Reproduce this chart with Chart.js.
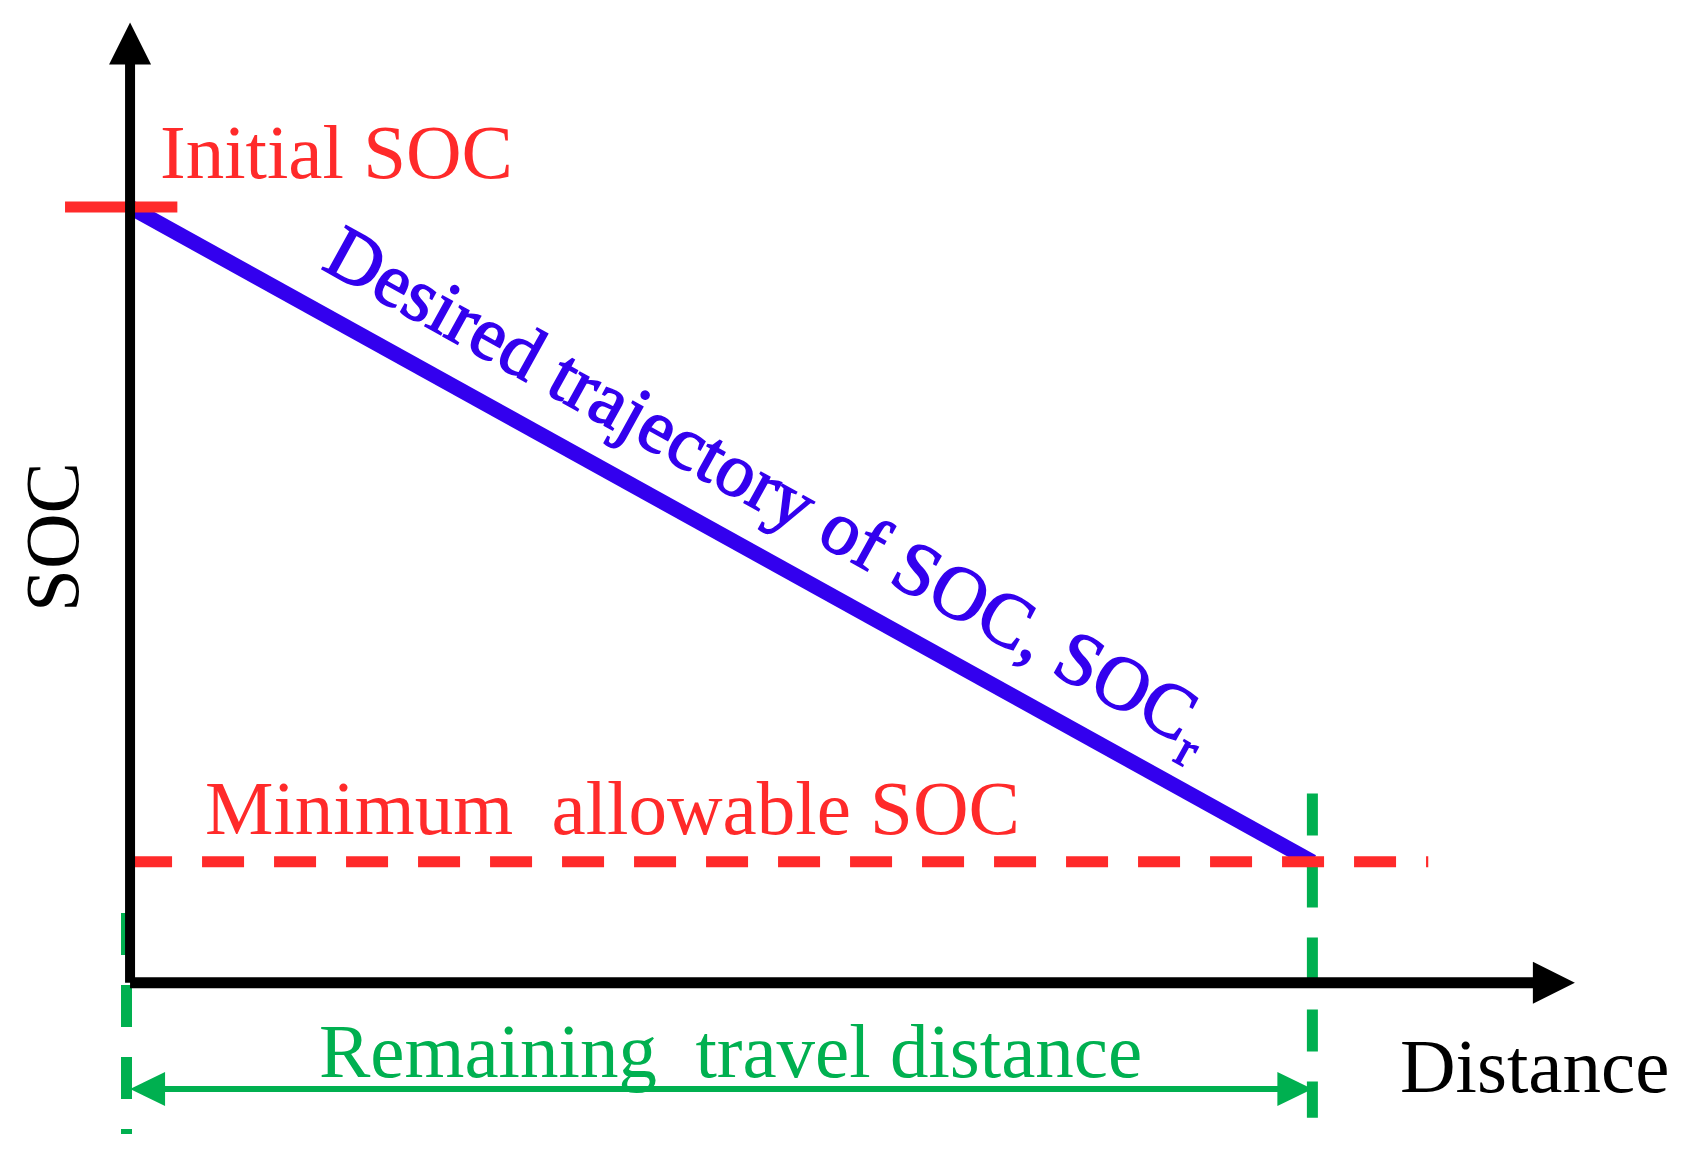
<!DOCTYPE html>
<html>
<head>
<meta charset="utf-8">
<script src="https://cdn.jsdelivr.net/npm/chart.js@4"></script>
<style>
 html, body { margin:0; padding:0; background:#fff; }
 #wrap { width:1686px; height:1158px; }
</style>
</head>
<body>
<div id="wrap"><canvas id="myCanvas"></canvas></div>
<script>
// schematic values (distance in %, SOC in %)
var initialSOC = 100;
var minSOC = 15.6;
var remainingDist = 100;
var trajDist = [0, remainingDist];
var trajSOC = [initialSOC, minSOC];

var xRange = [-11.0, 131.6];
var yRange = [-22.6, 126.7];

var RED = '#ff2a2a', BLUE = '#3300ee', GREEN = '#00b050';

function seg(x0, y0, x1, y1, color, w, dash) {
    return {
        data: [{x: x0, y: y0}, {x: x1, y: y1}],
        borderColor: color, borderWidth: w, borderDash: dash || [],
        pointRadius: 0, showLine: true, fill: false, borderCapStyle: 'butt'
    };
}

var datasets = [
    seg(0, 0, 0, 118.5, '#000', 10),
    seg(0, 0, 120.5, 0, '#000', 11),
    seg(-5.5, initialSOC, 4, initialSOC, RED, 11),
    seg(0, minSOC, 109.8, minSOC, RED, 11, [42, 30]),
    seg(remainingDist, 24.4, remainingDist, -17.4, GREEN, 11, [42, 30]),
    seg(-0.3, 9, -0.3, -19.5, GREEN, 11, [42, 30]),
    seg(2, -13.7, remainingDist - 2, -13.7, GREEN, 6),
    {
        data: [{x: trajDist[0], y: trajSOC[0]}, {x: trajDist[1], y: trajSOC[1]}],
        borderColor: BLUE, borderWidth: 15, pointRadius: 0, showLine: true, fill: false
    }
];

var decor = {
    id: 'decor',
    afterDatasetsDraw: function (chart) {
        var c = chart.ctx, xs = chart.scales.x, ys = chart.scales.y;
        function px(v) { return xs.getPixelForValue(v); }
        function py(v) { return ys.getPixelForValue(v); }
        function tri(x, y, ang, len, half, color) {
            c.save();
            c.translate(x, y); c.rotate(ang);
            c.fillStyle = color;
            c.beginPath(); c.moveTo(0, 0); c.lineTo(-len, -half); c.lineTo(-len, half); c.closePath(); c.fill();
            c.restore();
        }
        // axis arrowheads
        tri(px(0), py(123.8), -Math.PI / 2, 42, 21, '#000');
        tri(px(122.2), py(0), 0, 42, 21, '#000');
        // green distance arrow heads
        tri(px(0), py(-13.7), Math.PI, 35, 17, GREEN);
        tri(px(remainingDist), py(-13.7), 0, 35, 17, GREEN);

        c.save();
        c.textBaseline = 'alphabetic';
        c.font = '77px "Liberation Serif"';
        c.fillStyle = RED;
        c.fillText('Initial SOC', 160, 178);
        c.fillText('Minimum  allowable SOC', 205, 834);
        c.fillStyle = GREEN;
        c.fillText('Remaining  travel distance', 319, 1077);
        c.fillStyle = '#000';
        c.fillText('Distance', 1400, 1092);
        c.translate(78, 537);
        c.rotate(-Math.PI / 2);
        c.textAlign = 'center';
        c.fillText('SOC', 0, 0);
        c.restore();

        // rotated label along trajectory
        var ang = Math.atan2(py(trajSOC[1]) - py(trajSOC[0]), px(trajDist[1]) - px(trajDist[0]));
        c.save();
        c.translate(320, 268);
        c.rotate(ang);
        c.fillStyle = BLUE;
        c.strokeStyle = BLUE;
        c.lineWidth = 1.5;
        c.font = '76px "Liberation Serif"';
        var s = 'Desired trajectory of SOC, SOC';
        c.fillText(s, 0, 0);
        c.strokeText(s, 0, 0);
        var w = c.measureText(s).width;
        c.font = '52px "Liberation Serif"';
        c.fillText('r', w + 2, 18);
        c.strokeText('r', w + 2, 18);
        c.restore();
    }
};

var ctx = document.getElementById('myCanvas');
new Chart(ctx, {
    type: 'scatter',
    data: { datasets: datasets },
    options: {
        responsive: true, maintainAspectRatio: false, animation: false,
        layout: { padding: 0 },
        plugins: { legend: { display: false }, tooltip: { enabled: false } },
        scales: {
            x: { type: 'linear', min: xRange[0], max: xRange[1], display: false },
            y: { type: 'linear', min: yRange[0], max: yRange[1], display: false }
        }
    },
    plugins: [decor]
});
</script>
</body>
</html>
